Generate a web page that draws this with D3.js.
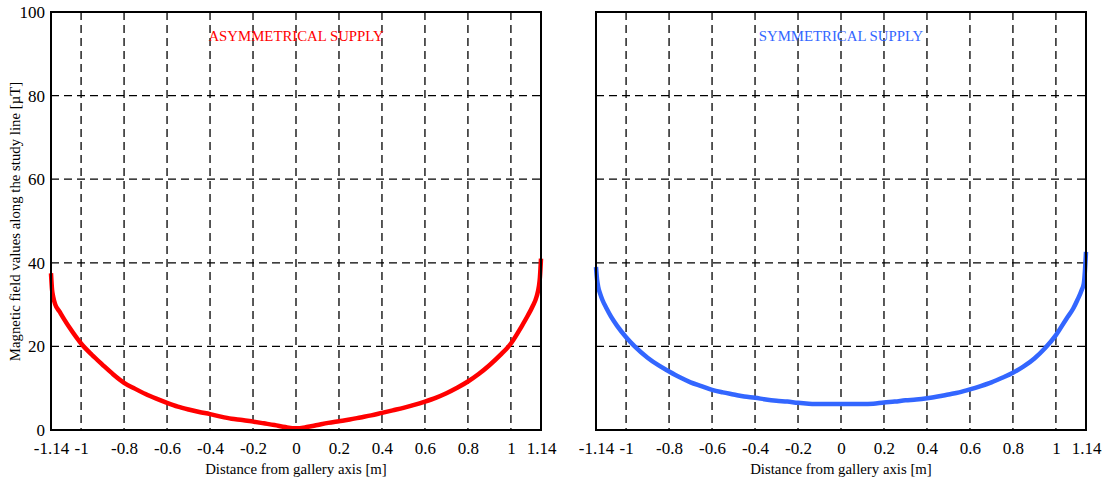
<!DOCTYPE html>
<html>
<head>
<meta charset="utf-8">
<script src="https://cdn.jsdelivr.net/npm/d3@7"></script>
<style>
  html, body { margin: 0; padding: 0; background: #fff; }
  svg { display: block; }
  svg text { font-family: "Liberation Serif", "Times New Roman", serif !important; }
</style>
</head>
<body>
<svg id="chart" width="1109" height="482"></svg>
<script>
// Distance from gallery axis [m]
const distAsym = [-1.14, -1.135, -1.13, -1.12, -1.10, -1.08, -1.05, -1.00, -0.95, -0.90, -0.85, -0.80, -0.75, -0.70, -0.65, -0.60, -0.55, -0.50, -0.45, -0.40, -0.35, -0.30, -0.25, -0.20, -0.15, -0.10, -0.05, 0.00, 0.05, 0.10, 0.15, 0.20, 0.25, 0.30, 0.35, 0.40, 0.45, 0.50, 0.55, 0.60, 0.65, 0.70, 0.75, 0.80, 0.85, 0.90, 0.95, 1.00, 1.05, 1.08, 1.10, 1.12, 1.13, 1.135, 1.14];
// Magnetic field [µT], asymmetrical supply
const fieldAsym = [37.5, 33.5, 31.9, 30.0, 28.3, 26.6, 24.2, 20.7, 18.0, 15.6, 13.3, 11.3, 9.9, 8.6, 7.5, 6.5, 5.6, 4.9, 4.3, 3.8, 3.2, 2.7, 2.4, 2.0, 1.6, 1.2, 0.7, 0.4, 0.7, 1.2, 1.7, 2.1, 2.5, 3.0, 3.5, 4.1, 4.7, 5.3, 6.0, 6.8, 7.7, 8.8, 10.1, 11.6, 13.4, 15.5, 17.9, 20.7, 24.8, 27.5, 29.5, 32.0, 34.3, 36.5, 41.0];

const distSym = [-1.14, -1.135, -1.13, -1.12, -1.11, -1.09, -1.07, -1.04, -1.00, -0.96, -0.90, -0.85, -0.80, -0.75, -0.70, -0.65, -0.60, -0.55, -0.50, -0.45, -0.40, -0.35, -0.30, -0.25, -0.20, -0.15, -0.10, 0.00, 0.10, 0.15, 0.20, 0.25, 0.30, 0.35, 0.40, 0.45, 0.50, 0.55, 0.60, 0.65, 0.70, 0.75, 0.80, 0.85, 0.90, 0.95, 1.00, 1.05, 1.08, 1.10, 1.12, 1.13, 1.135, 1.14];
// Magnetic field [µT], symmetrical supply
const fieldSym = [39.0, 36.0, 34.3, 32.5, 31.1, 29.0, 27.1, 24.8, 22.2, 20.0, 17.3, 15.5, 14.0, 12.6, 11.4, 10.5, 9.6, 9.0, 8.5, 8.0, 7.7, 7.3, 7.0, 6.8, 6.5, 6.3, 6.2, 6.2, 6.2, 6.3, 6.6, 6.8, 7.1, 7.3, 7.6, 8.0, 8.5, 9.0, 9.7, 10.5, 11.4, 12.5, 13.7, 15.2, 17.1, 19.6, 22.7, 26.7, 29.0, 31.1, 33.5, 35.1, 38.0, 42.6];

const xTicks = [-1.14, -1, -0.8, -0.6, -0.4, -0.2, 0, 0.2, 0.4, 0.6, 0.8, 1, 1.14];
const xGrid = [-1, -0.8, -0.6, -0.4, -0.2, 0, 0.2, 0.4, 0.6, 0.8, 1];
const yTicks = [0, 20, 40, 60, 80, 100];
const yGrid = [20, 40, 60, 80];

const panelTitles = ["ASYMMETRICAL SUPPLY", "SYMMETRICAL SUPPLY"];
const xTitle = "Distance from gallery axis [m]";
const yTitle = "Magnetic field values along the study line [\u00B5T]";

const serif = '"Liberation Serif", "Times New Roman", serif';
const svg = d3.select("#chart");

const panels = [
  { left: 51, right: 541, dist: distAsym, field: fieldAsym, color: "#ff0000", title: panelTitles[0], yLabels: true },
  { left: 596, right: 1086, dist: distSym, field: fieldSym, color: "#3366ff", title: panelTitles[1], yLabels: false }
];
const plotTop = 12, plotBottom = 430;

const y = d3.scaleLinear().domain([0, 100]).range([plotBottom, plotTop]);

panels.forEach(p => {
  const x = d3.scaleLinear().domain([-1.14, 1.14]).range([p.left, p.right]);
  const g = svg.append("g");

  // dashed grid
  g.append("g").selectAll("line").data(xGrid).join("line")
    .attr("x1", d => x(d)).attr("x2", d => x(d))
    .attr("y1", plotTop).attr("y2", plotBottom)
    .attr("stroke", "#000").attr("stroke-width", 1.3)
    .attr("stroke-dasharray", "8,5");
  g.append("g").selectAll("line").data(yGrid).join("line")
    .attr("x1", p.left).attr("x2", p.right)
    .attr("y1", d => y(d)).attr("y2", d => y(d))
    .attr("stroke", "#000").attr("stroke-width", 1.3)
    .attr("stroke-dasharray", "8,5");

  // curve
  const pts = p.dist.map((d, i) => [d, p.field[i]]);
  g.append("path").datum(pts)
    .attr("fill", "none")
    .attr("stroke", p.color)
    .attr("stroke-width", 4.5)
    .attr("stroke-linejoin", "round")
    .attr("d", d3.line().x(d => x(d[0])).y(d => y(d[1])).curve(d3.curveMonotoneX));

  // frame
  g.append("rect")
    .attr("x", p.left).attr("y", plotTop)
    .attr("width", p.right - p.left).attr("height", plotBottom - plotTop)
    .attr("fill", "none").attr("stroke", "#000").attr("stroke-width", 2);

  // x axis labels
  const xAxis = d3.axisBottom(x).tickValues(xTicks).tickSize(0).tickPadding(12)
    .tickFormat(d => String(d));
  const ax = g.append("g").attr("transform", `translate(0,${plotBottom})`).call(xAxis);
  ax.attr("font-family", null).style("font-family", serif);
  ax.select(".domain").remove();
  ax.selectAll("text").attr("font-size", 17).attr("fill", "#000")
    .style("font-family", serif);

  // y axis labels
  if (p.yLabels) {
    const yAxis = d3.axisLeft(y).tickValues(yTicks).tickSize(0).tickPadding(6)
      .tickFormat(d => String(d));
    const ay = g.append("g").attr("transform", `translate(${p.left},0)`).call(yAxis);
    ay.attr("font-family", null).style("font-family", serif);
    ay.select(".domain").remove();
    ay.selectAll("text").attr("font-size", 17).attr("fill", "#000")
      .style("font-family", serif);
  }

  // panel title
  g.append("text")
    .attr("x", (p.left + p.right) / 2).attr("y", 41)
    .attr("text-anchor", "middle")
    .attr("font-size", 14.8)
    .attr("fill", p.color)
    .text(p.title);

  // x axis title
  g.append("text")
    .attr("x", (p.left + p.right) / 2).attr("y", 474)
    .attr("text-anchor", "middle")
    .attr("font-size", 14.8)
    .attr("fill", "#000")
    .text(xTitle);
});

// y axis title
svg.append("text")
  .attr("transform", "translate(20,221.5) rotate(-90)")
  .attr("text-anchor", "middle")
  .attr("font-size", 14.8)
  .attr("fill", "#000")
  .text(yTitle);
</script>
</body>
</html>
